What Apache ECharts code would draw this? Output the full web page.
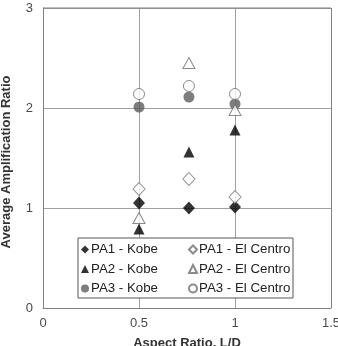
<!DOCTYPE html>
<html><head><meta charset="utf-8">
<script src="https://cdn.jsdelivr.net/npm/echarts@6/dist/echarts.min.js"></script>
<style>html,body{margin:0;padding:0;background:#fff}#c{width:338px;height:346px}</style>
</head><body><div id="c"></div>
<script>
const aspectRatio = [0.5, 0.76, 1.0];
const pa1Kobe = [1.05, 1.00, 1.01];
const pa1ElCentro = [1.19, 1.29, 1.11];
const pa2Kobe = [0.79, 1.56, 1.78];
const pa2ElCentro = [0.90, 2.45, 1.98];
const pa3Kobe = [2.01, 2.11, 2.04];
const pa3ElCentro = [2.14, 2.22, 2.14];
const xTicks = [0, 0.5, 1, 1.5];
const yTicks = [0, 1, 2, 3];

const pts = v => aspectRatio.map((x, i) => [x, v[i]]);
const font = 'Liberation Sans, Arial, sans-serif';
const chart = echarts.init(document.getElementById('c'), null, {renderer: 'canvas'});
const filled = (name, data, symbol, size, color) => ({
  name, type: 'scatter', data: pts(data), symbol, symbolSize: size,
  itemStyle: {color: color, borderWidth: 0}, z: 3
});
const open = (name, data, symbol, size) => ({
  name, type: 'scatter', data: pts(data), symbol, symbolSize: size,
  itemStyle: {color: '#fff', borderColor: '#6e6e6e', borderWidth: 1}, z: 4
});
chart.setOption({
  animation: false,
  grid: {left: 43, right: 7, top: 8, bottom: 38, containLabel: false, outerBoundsMode: 'none'},
  xAxis: {
    type: 'value', min: 0, max: 1.5, interval: 0.5,
    axisLine: {show: true, lineStyle: {color: '#808080'}},
    axisTick: {show: false},
    splitLine: {show: true, lineStyle: {color: '#a0a0a0'}},
    axisLabel: {color: '#4a4a4a', fontFamily: font, fontSize: 13, margin: 9,
      formatter: v => xTicks.includes(v) ? String(v) : ''},
    name: 'Aspect Ratio, L/D', nameLocation: 'middle', nameGap: 29,
    nameTextStyle: {fontFamily: font, fontWeight: 'bold', fontSize: 13, color: '#333'}
  },
  yAxis: {
    type: 'value', min: 0, max: 3, interval: 1,
    axisLine: {show: true, lineStyle: {color: '#808080'}},
    axisTick: {show: false},
    splitLine: {show: true, lineStyle: {color: '#a0a0a0'}},
    axisLabel: {color: '#4a4a4a', fontFamily: font, fontSize: 13, margin: 10,
      formatter: v => yTicks.includes(v) ? String(v) : ''},
    name: 'Average Amplification Ratio', nameLocation: 'middle', nameGap: 30,
    nameTextStyle: {fontFamily: font, fontWeight: 'bold', fontSize: 13, color: '#333', padding: [0, 8, 0, 0]}
  },
  graphic: [{
    type: 'rect', left: 77.5, top: 237.5, shape: {width: 215, height: 60},
    style: {fill: '#fff', stroke: '#555', lineWidth: 1}, z: 10
  }, {
    type: 'rect', left: 331, top: 8, shape: {width: 1, height: 300},
    style: {fill: '#808080'}, z: 1
  }, {
    type: 'rect', left: 43, top: 7.5, shape: {width: 288, height: 1},
    style: {fill: '#808080'}, z: 1
  }],
  legend: [{
    orient: 'vertical', left: 81, top: 243, padding: 0, itemGap: 6.5, itemWidth: 8, itemHeight: 8,
    data: ['PA1 - Kobe', 'PA2 - Kobe', 'PA3 - Kobe'], z: 20,
    textStyle: {fontFamily: font, fontSize: 13.3, color: '#222', padding: [0, 0, 0, -3]}
  }, {
    orient: 'vertical', left: 188, top: 243, padding: 0, itemGap: 6.5, itemWidth: 8, itemHeight: 8,
    data: ['PA1 - El Centro', 'PA2 - El Centro', 'PA3 - El Centro'], z: 20,
    textStyle: {fontFamily: font, fontSize: 13.3, color: '#222', padding: [0, 0, 0, -3]}
  }],
  series: [
    filled('PA1 - Kobe', pa1Kobe, 'diamond', [12, 13], '#000'),
    filled('PA2 - Kobe', pa2Kobe, 'triangle', [11, 11], '#000'),
    filled('PA3 - Kobe', pa3Kobe, 'circle', 11, '#5c5c5c'),
    open('PA1 - El Centro', pa1ElCentro, 'diamond', [12, 13]),
    open('PA2 - El Centro', pa2ElCentro, 'triangle', [12, 11]),
    open('PA3 - El Centro', pa3ElCentro, 'circle', 11)
  ]
});
</script></body></html>
